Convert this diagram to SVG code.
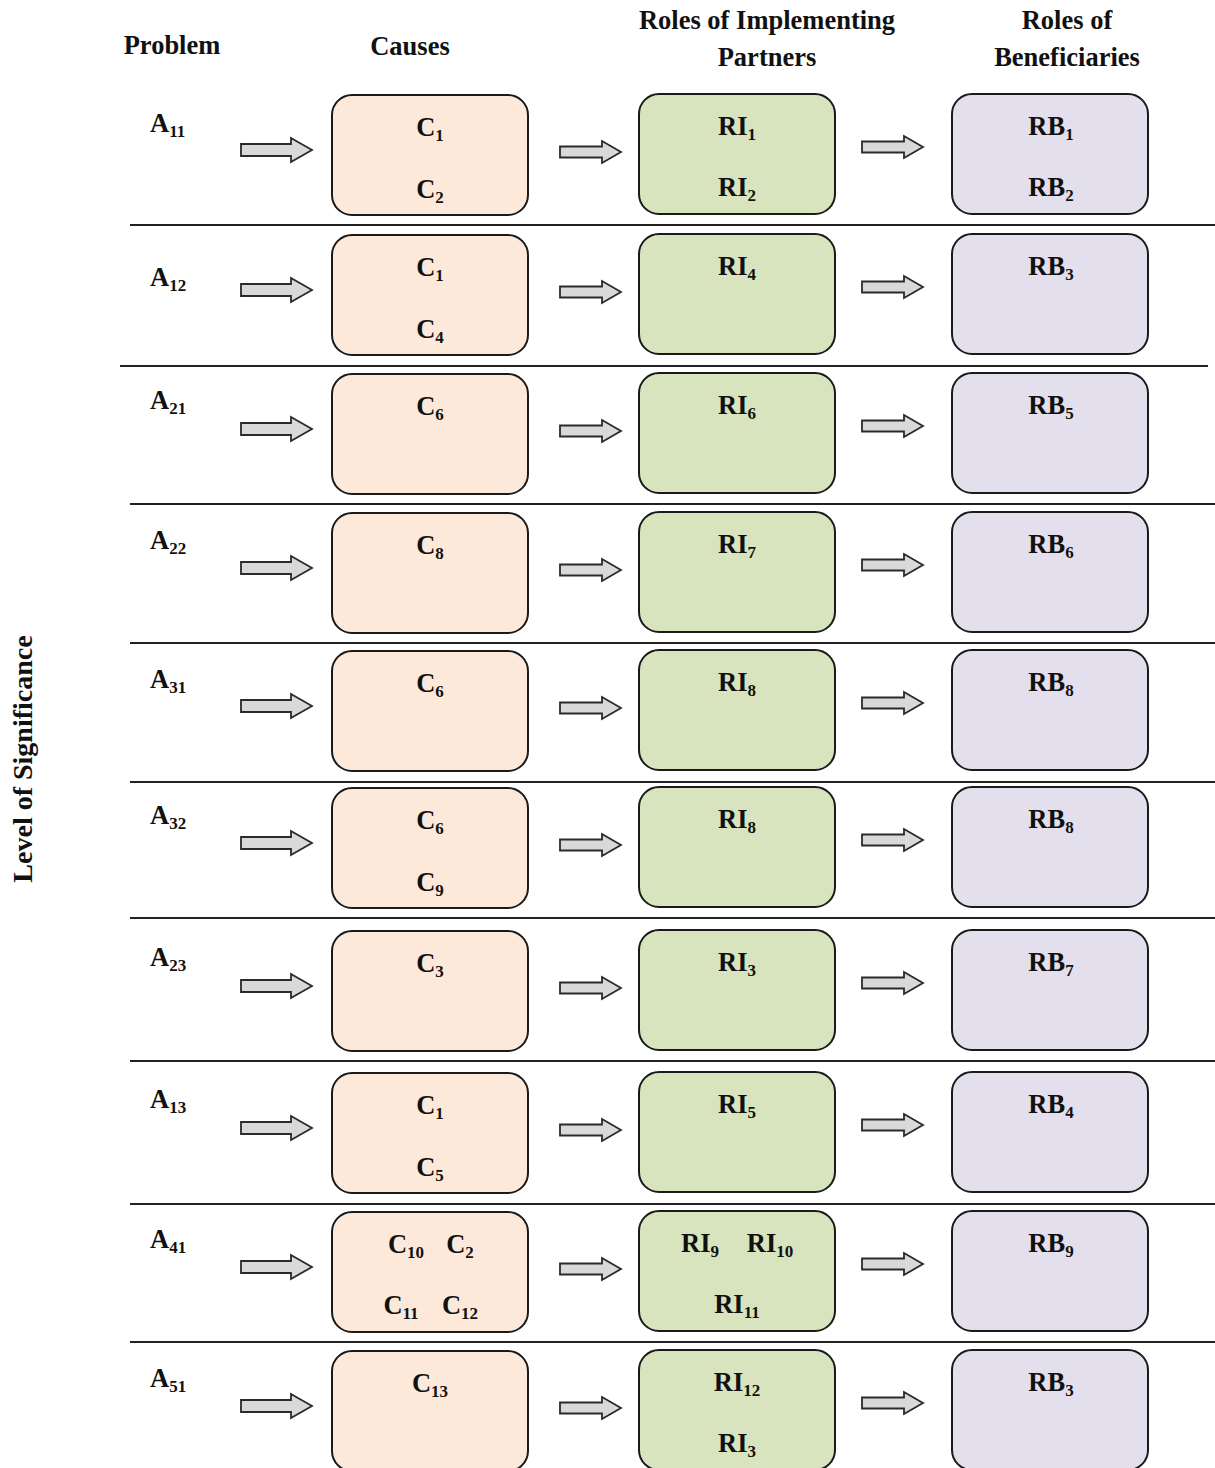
<svg xmlns="http://www.w3.org/2000/svg" xmlns:xlink="http://www.w3.org/1999/xlink" width="1215" height="1468" viewBox="0 0 1215 1468">
<style>
text{font-family:"Liberation Serif","Times New Roman",serif;font-weight:bold;fill:#111;font-size:26.5px}
.c{text-anchor:middle}
.sub{font-size:17px}
.cause{fill:#FDE9D9;stroke:#1a1a1a;stroke-width:2}
.ri{fill:#D7E4BD;stroke:#1a1a1a;stroke-width:2}
.rb{fill:#E4DFEC;stroke:#1a1a1a;stroke-width:2}
.sep{stroke:#222;stroke-width:2}
.arr{fill:#D9D9D9;stroke:#2a2a2a;stroke-width:1.8;stroke-linejoin:miter}
</style>
<defs>
<path id="a1" class="arr" d="M0,-6 H50 V-12 L71,0 L50,12 V6 H0 Z"/>
<path id="a2" class="arr" d="M0,-5.5 H42 V-11 L61,0 L42,11 V5.5 H0 Z"/>
</defs>
<rect width="1215" height="1468" fill="#fff"/>
<g id="headers">
<text class="c" x="172" y="54">Problem</text>
<text class="c" x="410" y="55">Causes</text>
<text class="c" x="767" y="29">Roles of Implementing</text>
<text class="c" x="767" y="66">Partners</text>
<text class="c" x="1067" y="29">Roles of</text>
<text class="c" x="1067" y="66">Beneficiaries</text>
<text class="c" style="font-size:28px" transform="translate(32,759) rotate(-90)">Level of Significance</text>
</g>
<g id="separators">
<line class="sep" x1="130" y1="225" x2="1215" y2="225"/>
<line class="sep" x1="120" y1="366" x2="1208" y2="366"/>
<line class="sep" x1="130" y1="504" x2="1215" y2="504"/>
<line class="sep" x1="130" y1="643" x2="1215" y2="643"/>
<line class="sep" x1="130" y1="782" x2="1215" y2="782"/>
<line class="sep" x1="130" y1="918" x2="1215" y2="918"/>
<line class="sep" x1="130" y1="1061" x2="1215" y2="1061"/>
<line class="sep" x1="130" y1="1204" x2="1215" y2="1204"/>
<line class="sep" x1="130" y1="1342" x2="1215" y2="1342"/>
</g>
<g id="problems">
<text x="150" y="132">A<tspan class="sub" dy="5">11</tspan></text>
<text x="150" y="286">A<tspan class="sub" dy="5">12</tspan></text>
<text x="150" y="409">A<tspan class="sub" dy="5">21</tspan></text>
<text x="150" y="549">A<tspan class="sub" dy="5">22</tspan></text>
<text x="150" y="688">A<tspan class="sub" dy="5">31</tspan></text>
<text x="150" y="824">A<tspan class="sub" dy="5">32</tspan></text>
<text x="150" y="966">A<tspan class="sub" dy="5">23</tspan></text>
<text x="150" y="1108">A<tspan class="sub" dy="5">13</tspan></text>
<text x="150" y="1248">A<tspan class="sub" dy="5">41</tspan></text>
<text x="150" y="1387">A<tspan class="sub" dy="5">51</tspan></text>
</g>
<g id="connectors">
<use xlink:href="#a1" x="241" y="150"/><use xlink:href="#a2" x="560" y="152"/><use xlink:href="#a2" x="862" y="147"/>
<use xlink:href="#a1" x="241" y="290"/><use xlink:href="#a2" x="560" y="292"/><use xlink:href="#a2" x="862" y="287"/>
<use xlink:href="#a1" x="241" y="429"/><use xlink:href="#a2" x="560" y="431"/><use xlink:href="#a2" x="862" y="426"/>
<use xlink:href="#a1" x="241" y="568"/><use xlink:href="#a2" x="560" y="570"/><use xlink:href="#a2" x="862" y="565"/>
<use xlink:href="#a1" x="241" y="706"/><use xlink:href="#a2" x="560" y="708"/><use xlink:href="#a2" x="862" y="703"/>
<use xlink:href="#a1" x="241" y="843"/><use xlink:href="#a2" x="560" y="845"/><use xlink:href="#a2" x="862" y="840"/>
<use xlink:href="#a1" x="241" y="986"/><use xlink:href="#a2" x="560" y="988"/><use xlink:href="#a2" x="862" y="983"/>
<use xlink:href="#a1" x="241" y="1128"/><use xlink:href="#a2" x="560" y="1130"/><use xlink:href="#a2" x="862" y="1125"/>
<use xlink:href="#a1" x="241" y="1267"/><use xlink:href="#a2" x="560" y="1269"/><use xlink:href="#a2" x="862" y="1264"/>
<use xlink:href="#a1" x="241" y="1406"/><use xlink:href="#a2" x="560" y="1408"/><use xlink:href="#a2" x="862" y="1403"/>
</g>
<!-- Row 1 -->
<g id="cause1"><rect class="cause" x="332" y="95" width="196" height="120" rx="20"/>
<text class="c" x="430" y="136">C<tspan class="sub" dy="5">1</tspan></text>
<text class="c" x="430" y="198">C<tspan class="sub" dy="5">2</tspan></text></g>
<g id="ri1"><rect class="ri" x="639" y="94" width="196" height="120" rx="20"/>
<text class="c" x="737" y="135">RI<tspan class="sub" dy="5">1</tspan></text>
<text class="c" x="737" y="196">RI<tspan class="sub" dy="5">2</tspan></text></g>
<g id="rb1"><rect class="rb" x="952" y="94" width="196" height="120" rx="20"/>
<text class="c" x="1051" y="135">RB<tspan class="sub" dy="5">1</tspan></text>
<text class="c" x="1051" y="196">RB<tspan class="sub" dy="5">2</tspan></text></g>
<!-- Row 2 -->
<g id="cause2"><rect class="cause" x="332" y="235" width="196" height="120" rx="20"/>
<text class="c" x="430" y="276">C<tspan class="sub" dy="5">1</tspan></text>
<text class="c" x="430" y="338">C<tspan class="sub" dy="5">4</tspan></text></g>
<g id="ri2"><rect class="ri" x="639" y="234" width="196" height="120" rx="20"/>
<text class="c" x="737" y="275">RI<tspan class="sub" dy="5">4</tspan></text></g>
<g id="rb2"><rect class="rb" x="952" y="234" width="196" height="120" rx="20"/>
<text class="c" x="1051" y="275">RB<tspan class="sub" dy="5">3</tspan></text></g>
<!-- Row 3 -->
<g id="cause3"><rect class="cause" x="332" y="374" width="196" height="120" rx="20"/>
<text class="c" x="430" y="415">C<tspan class="sub" dy="5">6</tspan></text></g>
<g id="ri3"><rect class="ri" x="639" y="373" width="196" height="120" rx="20"/>
<text class="c" x="737" y="414">RI<tspan class="sub" dy="5">6</tspan></text></g>
<g id="rb3"><rect class="rb" x="952" y="373" width="196" height="120" rx="20"/>
<text class="c" x="1051" y="414">RB<tspan class="sub" dy="5">5</tspan></text></g>
<!-- Row 4 -->
<g id="cause4"><rect class="cause" x="332" y="513" width="196" height="120" rx="20"/>
<text class="c" x="430" y="554">C<tspan class="sub" dy="5">8</tspan></text></g>
<g id="ri4"><rect class="ri" x="639" y="512" width="196" height="120" rx="20"/>
<text class="c" x="737" y="553">RI<tspan class="sub" dy="5">7</tspan></text></g>
<g id="rb4"><rect class="rb" x="952" y="512" width="196" height="120" rx="20"/>
<text class="c" x="1051" y="553">RB<tspan class="sub" dy="5">6</tspan></text></g>
<!-- Row 5 -->
<g id="cause5"><rect class="cause" x="332" y="651" width="196" height="120" rx="20"/>
<text class="c" x="430" y="692">C<tspan class="sub" dy="5">6</tspan></text></g>
<g id="ri5"><rect class="ri" x="639" y="650" width="196" height="120" rx="20"/>
<text class="c" x="737" y="691">RI<tspan class="sub" dy="5">8</tspan></text></g>
<g id="rb5"><rect class="rb" x="952" y="650" width="196" height="120" rx="20"/>
<text class="c" x="1051" y="691">RB<tspan class="sub" dy="5">8</tspan></text></g>
<!-- Row 6 -->
<g id="cause6"><rect class="cause" x="332" y="788" width="196" height="120" rx="20"/>
<text class="c" x="430" y="829">C<tspan class="sub" dy="5">6</tspan></text>
<text class="c" x="430" y="891">C<tspan class="sub" dy="5">9</tspan></text></g>
<g id="ri6"><rect class="ri" x="639" y="787" width="196" height="120" rx="20"/>
<text class="c" x="737" y="828">RI<tspan class="sub" dy="5">8</tspan></text></g>
<g id="rb6"><rect class="rb" x="952" y="787" width="196" height="120" rx="20"/>
<text class="c" x="1051" y="828">RB<tspan class="sub" dy="5">8</tspan></text></g>
<!-- Row 7 -->
<g id="cause7"><rect class="cause" x="332" y="931" width="196" height="120" rx="20"/>
<text class="c" x="430" y="972">C<tspan class="sub" dy="5">3</tspan></text></g>
<g id="ri7"><rect class="ri" x="639" y="930" width="196" height="120" rx="20"/>
<text class="c" x="737" y="971">RI<tspan class="sub" dy="5">3</tspan></text></g>
<g id="rb7"><rect class="rb" x="952" y="930" width="196" height="120" rx="20"/>
<text class="c" x="1051" y="971">RB<tspan class="sub" dy="5">7</tspan></text></g>
<!-- Row 8 -->
<g id="cause8"><rect class="cause" x="332" y="1073" width="196" height="120" rx="20"/>
<text class="c" x="430" y="1114">C<tspan class="sub" dy="5">1</tspan></text>
<text class="c" x="430" y="1176">C<tspan class="sub" dy="5">5</tspan></text></g>
<g id="ri8"><rect class="ri" x="639" y="1072" width="196" height="120" rx="20"/>
<text class="c" x="737" y="1113">RI<tspan class="sub" dy="5">5</tspan></text></g>
<g id="rb8"><rect class="rb" x="952" y="1072" width="196" height="120" rx="20"/>
<text class="c" x="1051" y="1113">RB<tspan class="sub" dy="5">4</tspan></text></g>
<!-- Row 9 -->
<g id="cause9"><rect class="cause" x="332" y="1212" width="196" height="120" rx="20"/>
<text class="c" x="406" y="1253">C<tspan class="sub" dy="5">10</tspan></text>
<text class="c" x="460" y="1253">C<tspan class="sub" dy="5">2</tspan></text>
<text class="c" x="401" y="1314">C<tspan class="sub" dy="5">11</tspan></text>
<text class="c" x="460" y="1314">C<tspan class="sub" dy="5">12</tspan></text></g>
<g id="ri9"><rect class="ri" x="639" y="1211" width="196" height="120" rx="20"/>
<text class="c" x="700" y="1252">RI<tspan class="sub" dy="5">9</tspan></text>
<text class="c" x="770" y="1252">RI<tspan class="sub" dy="5">10</tspan></text>
<text class="c" x="737" y="1313">RI<tspan class="sub" dy="5">11</tspan></text></g>
<g id="rb9"><rect class="rb" x="952" y="1211" width="196" height="120" rx="20"/>
<text class="c" x="1051" y="1252">RB<tspan class="sub" dy="5">9</tspan></text></g>
<!-- Row 10 -->
<g id="cause10"><rect class="cause" x="332" y="1351" width="196" height="120" rx="20"/>
<text class="c" x="430" y="1392">C<tspan class="sub" dy="5">13</tspan></text></g>
<g id="ri10"><rect class="ri" x="639" y="1350" width="196" height="120" rx="20"/>
<text class="c" x="737" y="1391">RI<tspan class="sub" dy="5">12</tspan></text>
<text class="c" x="737" y="1452">RI<tspan class="sub" dy="5">3</tspan></text></g>
<g id="rb10"><rect class="rb" x="952" y="1350" width="196" height="120" rx="20"/>
<text class="c" x="1051" y="1391">RB<tspan class="sub" dy="5">3</tspan></text></g>
</svg>
